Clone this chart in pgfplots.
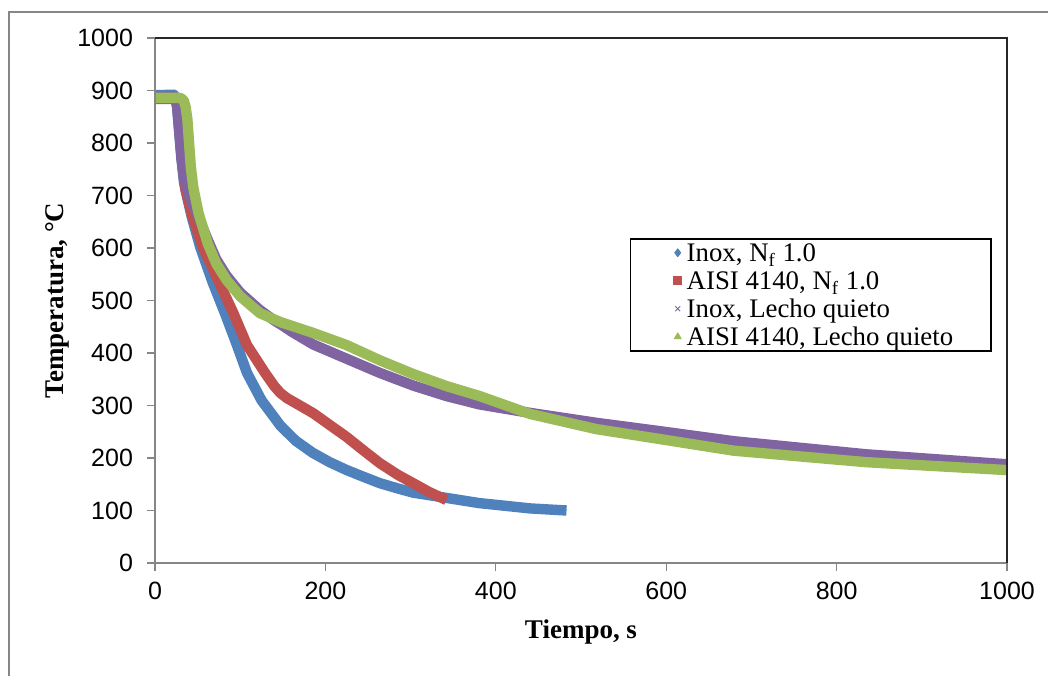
\documentclass[border=0pt]{standalone}
\usepackage{fontspec}
\setmainfont{Liberation Serif}
\newfontfamily\tickfont{Liberation Sans}
\usepackage{pgfplots}
\pgfplotsset{compat=1.18}
\definecolor{sblue}{HTML}{4F81BD}
\definecolor{sred}{HTML}{C0504D}
\definecolor{spurple}{HTML}{8064A2}
\definecolor{sgreen}{HTML}{9BBB59}
\definecolor{axgray}{HTML}{868686}
\begin{document}
\begin{tikzpicture}
\useasboundingbox (0pt,0pt) rectangle (524pt,337.5pt);
\begin{scope}
\clip (0pt,0pt) rectangle (524pt,337.5pt);
\draw[axgray, line width=0.75pt] (4.5pt,-20pt) -- (4.5pt,331.5pt) -- (540pt,331.5pt);
\end{scope}
\begin{axis}[
  at={(77.5pt,56pt)}, anchor=south west,
  scale only axis, width=426pt, height=262.5pt,
  xmin=0, xmax=1000, ymin=0, ymax=1000,
  xtick={0,200,...,1000}, ytick={0,100,...,1000},
  axis line style={draw=none},
  tick align=outside, major tick length=4pt,
  tick style={axgray, line width=0.6pt},
  xtick pos=bottom, ytick pos=left,
  clip=false,
  ticklabel style={font=\tickfont\fontsize{12.5}{13}\selectfont},
  yticklabel style={xshift=-3.5pt},
  xticklabel style={yshift=-2pt},
  /pgf/number format/assume math mode=true,
  /pgf/number format/1000 sep={},
  xlabel={Tiempo, s}, ylabel={Temperatura, °C},
  label style={font=\bfseries\fontsize{13.5}{15}\selectfont},
  xlabel style={at={(axis description cs:0.5,-0.131)}, anchor=center},
  ylabel style={at={(axis description cs:-0.115,0.5)}, anchor=center},
  legend cell align=left,
  legend style={at={(axis description cs:0.5575,0.619)}, anchor=north west,
    draw=black, line width=0.75pt, inner xsep=19pt, inner ysep=0pt, row sep=0pt,
    font=\fontsize{13.4}{14}\selectfont,
    nodes={inner sep=0pt, text height=11.5pt, text depth=2.5pt}},
  every axis plot/.append style={line width=5.2pt, line join=round, line cap=butt},
]
\addplot[sblue, legend image code/.code={\path[draw=none,fill=none] (0pt,-2pt) rectangle (9pt,2pt); \path[draw=sblue, fill=sblue, line width=0.4pt] plot[mark=diamond*, mark size=2pt] coordinates {(4.5pt,0pt)};}]
coordinates {(0,891)(22,892)(24,888)(26,870)(28,830)(31,770)(34,725)(38,695)(43,660)(53,602)(68,533)(82,476)(95,420)(108,362)(125,310)(147,262)(165,233)(185,210)(205,192)(225,177)(245,164)(264,152)(285,142)(303,134)(342,124)(381,114)(405,110)(440,104)(483,100)};
\addlegendentry{Inox, N\textsubscript{f} 1.0}
\addplot[sred, legend image code/.code={\path[draw=none,fill=none] (0pt,-2pt) rectangle (9pt,2pt); \path[draw=sred, fill=sred, line width=0.4pt] plot[mark=square*, mark size=2pt] coordinates {(4.5pt,0pt)};}]
coordinates {(0,884)(25,884)(27,860)(29,820)(32,760)(36,710)(43,665)(56,602)(74,539)(92,476)(108,415)(120,385)(130,360)(140,337)(147,324)(155,314)(170,300)(186,285)(205,263)(225,240)(245,214)(264,190)(285,168)(303,152)(322,135)(342,120)};
\addlegendentry{AISI 4140, N\textsubscript{f} 1.0}
\addplot[spurple, legend image code/.code={\path[draw=none,fill=none] (0pt,-2pt) rectangle (9pt,2pt); \path[draw=spurple, line width=0.5pt] plot[mark=x, mark size=1.75pt] coordinates {(4.5pt,0pt)};}]
coordinates {(0,888)(22,888)(24,884)(26,868)(28,830)(31,775)(34,735)(40,700)(50,663)(62,615)(72,578)(84,547)(100,515)(123,482)(140,462)(150,452)(160,441)(186,416)(225,389)(264,362)(303,338)(342,318)(381,302)(440,286)(518,267)(593,251)(679,232)(835,207)(1000,188)};
\addlegendentry{Inox, Lecho quieto}
\addplot[sgreen, legend image code/.code={\path[draw=none,fill=none] (0pt,-2pt) rectangle (9pt,2pt); \path[draw=sgreen, fill=sgreen, line width=0.4pt] plot[mark=triangle*, mark size=2pt] coordinates {(4.5pt,0pt)};}]
coordinates {(0,886)(28,886)(31,885)(34,880)(36,868)(38,845)(40,800)(42,755)(45,715)(51,667)(62,608)(72,570)(84,539)(100,508)(123,476)(147,459)(186,438)(225,415)(264,386)(303,360)(342,337)(381,318)(440,284)(518,255)(593,236)(679,214)(835,192)(1000,177)};
\addlegendentry{AISI 4140, Lecho quieto}
\draw[axgray, line width=0.75pt] (rel axis cs:0,1) -- (rel axis cs:0,0) -- (rel axis cs:1,0);
\draw[black!85, line width=0.9pt] (rel axis cs:0,1) -- (rel axis cs:1,1) -- (rel axis cs:1,0);
\end{axis}
\end{tikzpicture}
\end{document}
